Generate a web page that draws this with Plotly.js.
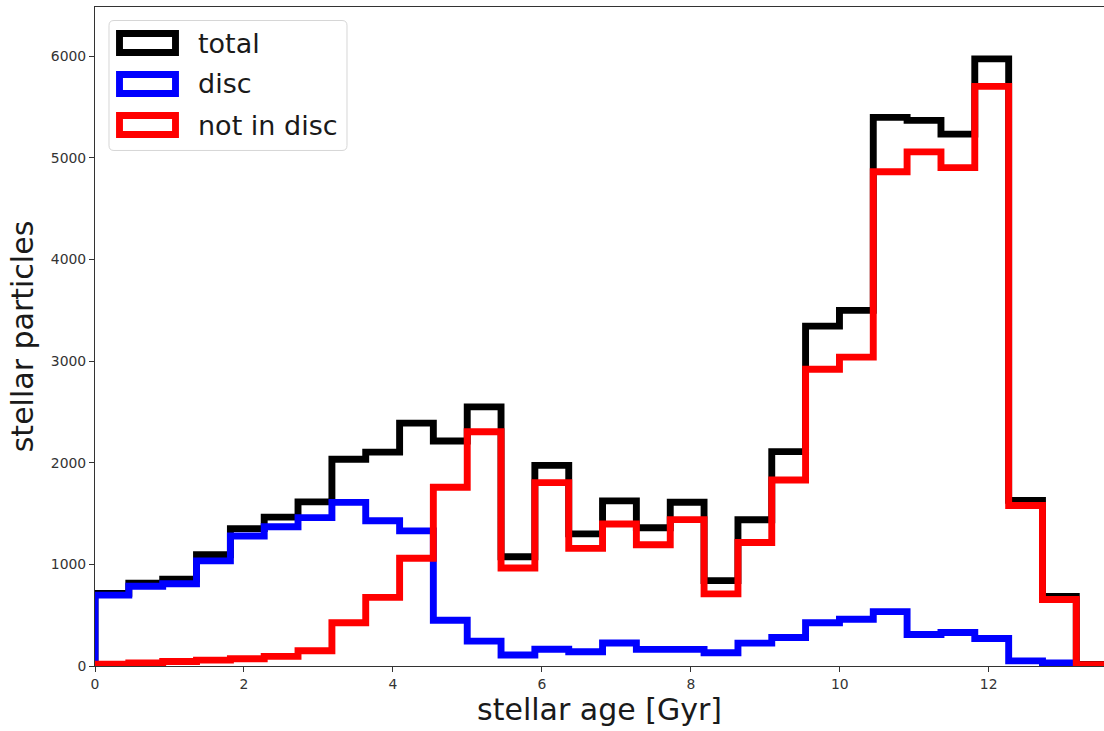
<!DOCTYPE html>
<html>
<head>
<meta charset="utf-8">
<script src="https://cdn.plot.ly/plotly-3.0.1.min.js"></script>
<style>
  html, body { margin: 0; padding: 0; background: #fff; }
  #chart { width: 1104px; height: 731px; }
</style>
</head>
<body>
<div id="chart"></div>
<script>
// Age bin edges [Gyr] (30 equal bins)
const ageEdges = [0, 0.454, 0.909, 1.363, 1.818, 2.272, 2.726, 3.181, 3.635, 4.090,
  4.543, 4.998, 5.452, 5.906, 6.361, 6.815, 7.269, 7.724, 8.178, 8.633,
  9.087, 9.541, 9.996, 10.450, 10.904, 11.359, 11.813, 12.268, 12.722, 13.176, 13.630];

// Counts of stellar particles per age bin
const totalCounts = [715, 815, 855, 1095, 1352, 1465, 1615, 2035, 2105, 2390,
  2215, 2550, 1075, 1975, 1300, 1625, 1360, 1612, 840, 1440,
  2110, 3345, 3500, 5400, 5370, 5235, 5975, 1630, 685, 15];
const discCounts = [698, 785, 810, 1035, 1280, 1370, 1460, 1610, 1430, 1330,
  450, 245, 108, 165, 140, 227, 164, 164, 130, 225,
  280, 425, 460, 535, 310, 330, 270, 50, 30, 3];
const notDiscCounts = [17, 30, 45, 58, 72, 95, 150, 425, 675, 1060,
  1760, 2305, 965, 1805, 1158, 1398, 1194, 1441, 710, 1215,
  1830, 2920, 3040, 4865, 5060, 4905, 5705, 1580, 655, 12];

const seriesNames = ['total', 'disc', 'not in disc'];
const seriesColors = ['#000000', '#0000ff', '#ff0000'];
const xTicks = [0, 2, 4, 6, 8, 10, 12];
const yTicks = [0, 1000, 2000, 3000, 4000, 5000, 6000];

const FONT = 'DejaVu Sans, Liberation Sans, sans-serif';
const LW = 6.9;

// Outline of a step histogram: rises at the first edge, steps across every bin, drops at the last edge
function stepTrace(edges, counts, name, color) {
  return {
    type: 'scatter', mode: 'lines', name: name,
    x: [edges[0]].concat(edges),
    y: [0].concat(counts, [0]),
    line: { color: color, width: LW, shape: 'hv' },
    hoverinfo: 'skip', showlegend: false
  };
}

const traces = [
  stepTrace(ageEdges, totalCounts, seriesNames[0], seriesColors[0]),
  stepTrace(ageEdges, discCounts, seriesNames[1], seriesColors[1]),
  stepTrace(ageEdges, notDiscCounts, seriesNames[2], seriesColors[2])
];

// Figure geometry (pixels) for the hand-drawn legend
const W = 1104, H = 731, M = { l: 95, r: 0, t: 7, b: 65 };
const plotW = W - M.l - M.r, plotH = H - M.t - M.b;
const px = x => (x - M.l) / plotW;
const py = y => (H - M.b - y) / plotH;

function roundRectPath(x0, y0, x1, y1, r) {
  const X = v => px(v).toFixed(5), Y = v => py(v).toFixed(5);
  return 'M' + X(x0 + r) + ',' + Y(y0) +
    ' L' + X(x1 - r) + ',' + Y(y0) + ' Q' + X(x1) + ',' + Y(y0) + ' ' + X(x1) + ',' + Y(y0 + r) +
    ' L' + X(x1) + ',' + Y(y1 - r) + ' Q' + X(x1) + ',' + Y(y1) + ' ' + X(x1 - r) + ',' + Y(y1) +
    ' L' + X(x0 + r) + ',' + Y(y1) + ' Q' + X(x0) + ',' + Y(y1) + ' ' + X(x0) + ',' + Y(y1 - r) +
    ' L' + X(x0) + ',' + Y(y0 + r) + ' Q' + X(x0) + ',' + Y(y0) + ' ' + X(x0 + r) + ',' + Y(y0) + ' Z';
}

const shapes = [{
  type: 'path', xref: 'paper', yref: 'paper', layer: 'above',
  path: roundRectPath(109, 20.5, 347, 150.5, 5),
  fillcolor: 'rgba(255,255,255,0.8)',
  line: { color: 'rgba(204,204,204,0.8)', width: 1 }
}];
const annotations = [];
const rowCenters = [43, 84, 125];
seriesNames.forEach((name, i) => {
  const cy = rowCenters[i];
  shapes.push({
    type: 'rect', xref: 'paper', yref: 'paper', layer: 'above',
    x0: px(119.5), x1: px(175.5), y0: py(cy - 9.5), y1: py(cy + 9.5),
    fillcolor: 'rgba(0,0,0,0)',
    line: { color: seriesColors[i], width: LW }
  });
  annotations.push({
    xref: 'paper', yref: 'paper', x: px(196), y: py(cy),
    xanchor: 'left', yanchor: 'middle', showarrow: false,
    text: name, font: { family: FONT, size: 27, color: '#1a1a1a' }
  });
});

const layout = {
  width: W, height: H,
  margin: M,
  paper_bgcolor: '#ffffff', plot_bgcolor: '#ffffff',
  showlegend: false,
  font: { family: FONT, color: '#262626' },
  xaxis: {
    range: [0, 13.548], tickvals: xTicks, ticktext: xTicks.map(String),
    showgrid: false, zeroline: false,
    showline: true, linecolor: '#333', linewidth: 1, mirror: true,
    ticks: 'outside', ticklen: 5, tickwidth: 1, tickcolor: '#333',
    tickfont: { family: FONT, size: 13.9, color: '#333' },
    title: { text: 'stellar age [Gyr]', font: { family: FONT, size: 30, color: '#1a1a1a' }, standoff: 8 }
  },
  yaxis: {
    range: [0, 6486], tickvals: yTicks, ticktext: yTicks.map(String),
    showgrid: false, zeroline: false,
    showline: true, linecolor: '#333', linewidth: 1,
    ticks: 'outside', ticklen: 5, tickwidth: 1, tickcolor: '#333',
    tickfont: { family: FONT, size: 13.9, color: '#333' },
    title: { text: 'stellar particles', font: { family: FONT, size: 30, color: '#1a1a1a' }, standoff: 8 }
  },
  shapes: shapes,
  annotations: annotations
};

Plotly.newPlot('chart', traces, layout, { staticPlot: true, displayModeBar: false });
</script>
</body>
</html>
